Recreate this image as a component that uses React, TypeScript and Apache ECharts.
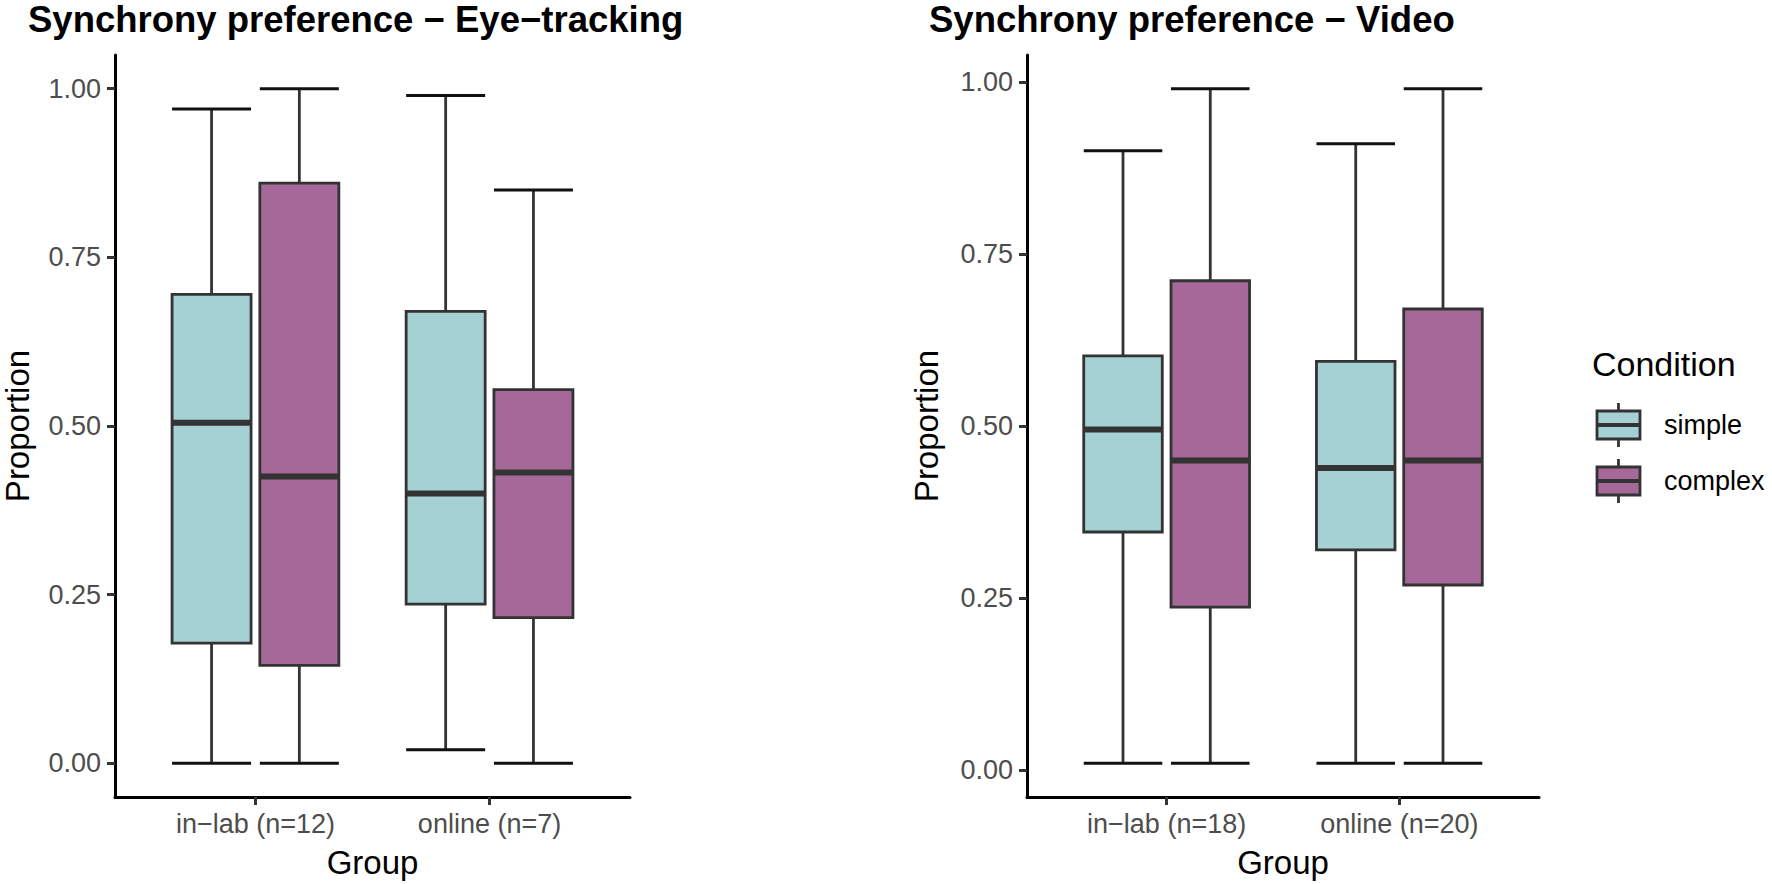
import { useEffect, useRef } from 'react';
import * as echarts from 'echarts';

// group labels (R draws the hyphen as a minus sign)
const groupsEye = ['in\u2212lab (n=12)', 'online (n=7)'];
const groupsVideo = ['in\u2212lab (n=18)', 'online (n=20)'];
const conditions = ['simple', 'complex'];
const yTicks = [0, 0.25, 0.5, 0.75, 1];

// [min, q1, median, q3, max] per group, one array per condition
const eyeSimple = [
    [0, 0.178, 0.505, 0.695, 0.97],
    [0.02, 0.236, 0.4, 0.67, 0.99],
];
const eyeComplex = [
    [0, 0.145, 0.425, 0.86, 1.0],
    [0, 0.216, 0.431, 0.554, 0.85],
];
const videoSimple = [
    [0.01, 0.346, 0.495, 0.602, 0.9],
    [0.01, 0.32, 0.439, 0.594, 0.91],
];
const videoComplex = [
    [0.01, 0.237, 0.45, 0.711, 0.99],
    [0.01, 0.269, 0.45, 0.67, 0.99],
];

const FILL = ['#A5D0D4', '#A66899'];
const STROKE = '#333333';
const FONT = 'Liberation Sans, Arial, Helvetica, sans-serif';
const DODGE = 0.1875;
const HALF = 0.16875;
const LW = 2.8;

const toRows = (simple: number[][], complex: number[][]) => {
    const rows: number[][] = [];
    [simple, complex].forEach((cond, c) => {
        cond.forEach((s, g) => rows.push([g + 1, c, ...s]));
    });
    return rows;
};

// ggplot-like 5% expansion of the data range
const expand = (simple: number[][], complex: number[][]) => {
    const all = [...simple, ...complex].flat();
    const lo = Math.min(...all);
    const hi = Math.max(...all);
    const pad = (hi - lo) * 0.05;
    return [lo - pad, hi + pad];
};

const renderBox = (_params: any, api: any) => {
    const g = api.value(0);
    const c = api.value(1);
    const xc = g + (c === 0 ? -DODGE : DODGE);
    const lo = api.value(2), q1 = api.value(3), med = api.value(4), q3 = api.value(5), hi = api.value(6);
    const xl = api.coord([xc - HALF, lo])[0];
    const xr = api.coord([xc + HALF, lo])[0];
    const xm = api.coord([xc, lo])[0];
    const y = (v: number) => api.coord([xc, v])[1];
    return {
        type: 'group',
        children: [
            { type: 'line', shape: { x1: xm, y1: y(hi), x2: xm, y2: y(q3) }, style: { stroke: STROKE, lineWidth: LW } },
            { type: 'line', shape: { x1: xm, y1: y(q1), x2: xm, y2: y(lo) }, style: { stroke: STROKE, lineWidth: LW } },
            { type: 'line', shape: { x1: xl, y1: y(hi), x2: xr, y2: y(hi) }, style: { stroke: '#111', lineWidth: 3 } },
            { type: 'line', shape: { x1: xl, y1: y(lo), x2: xr, y2: y(lo) }, style: { stroke: '#111', lineWidth: 3 } },
            {
                type: 'rect',
                shape: { x: xl, y: y(q3), width: xr - xl, height: y(q1) - y(q3) },
                style: { fill: FILL[c], stroke: STROKE, lineWidth: LW },
            },
            { type: 'line', shape: { x1: xl, y1: y(med), x2: xr, y2: y(med) }, style: { stroke: STROKE, lineWidth: 6 } },
        ],
    };
};

const xAxisFor = (gridIndex: number, labels: string[]) => ({
    type: 'value',
    gridIndex,
    min: 0.4,
    max: 2.6,
    splitLine: { show: false },
    axisLine: { onZero: false, lineStyle: { color: '#000', width: 3 } },
    axisTick: { customValues: [1, 2], length: 8, lineStyle: { color: STROKE, width: 3 } },
    axisLabel: {
        customValues: [1, 2],
        formatter: (v: number) => labels[Math.round(v) - 1],
        color: '#4D4D4D',
        fontSize: 27,
        fontFamily: FONT,
        margin: 13,
    },
});

const yAxisFor = (gridIndex: number, range: number[]) => ({
    type: 'value',
    gridIndex,
    min: range[0],
    max: range[1],
    splitLine: { show: false },
    axisLine: { onZero: false, lineStyle: { color: '#000', width: 3 } },
    axisTick: { customValues: yTicks, length: 8, lineStyle: { color: STROKE, width: 3 } },
    axisLabel: {
        customValues: yTicks,
        formatter: (v: number) => v.toFixed(2),
        color: '#4D4D4D',
        fontSize: 27,
        fontFamily: FONT,
        margin: 14,
    },
});

const text = (x: number, y: number, str: string, size: number, extra: any = {}) => ({
    type: 'text',
    x,
    y,
    style: { text: str, fontSize: size, fontFamily: FONT, fill: '#000', textVerticalAlign: 'middle', ...extra },
});

const legendKey = (y: number, c: number) => ({
    type: 'group',
    children: [
        { type: 'line', shape: { x1: 1618.5, y1: y - 22, x2: 1618.5, y2: y + 22 }, style: { stroke: STROKE, lineWidth: LW } },
        { type: 'rect', shape: { x: 1597, y: y - 14, width: 43, height: 28 }, style: { fill: FILL[c], stroke: STROKE, lineWidth: LW } },
        { type: 'line', shape: { x1: 1597, y1: y, x2: 1640, y2: y }, style: { stroke: STROKE, lineWidth: 4 } },
    ],
});

const App = () => {
    const chartRef = useRef<HTMLDivElement | null>(null);

    useEffect(() => {
        if (!chartRef.current) return;
        const myChart = echarts.init(chartRef.current, null, { renderer: 'svg' });

        const option = {
            animation: false,
            backgroundColor: '#fff',
            grid: [
                { left: 115, top: 55, width: 515, height: 742 },
                { left: 1027, top: 55, width: 512, height: 742 },
            ],
            xAxis: [xAxisFor(0, groupsEye), xAxisFor(1, groupsVideo)],
            yAxis: [yAxisFor(0, expand(eyeSimple, eyeComplex)), yAxisFor(1, expand(videoSimple, videoComplex))],
            series: [
                {
                    type: 'custom',
                    name: 'Eye-tracking',
                    xAxisIndex: 0,
                    yAxisIndex: 0,
                    renderItem: renderBox,
                    data: toRows(eyeSimple, eyeComplex),
                },
                {
                    type: 'custom',
                    name: 'Video',
                    xAxisIndex: 1,
                    yAxisIndex: 1,
                    renderItem: renderBox,
                    data: toRows(videoSimple, videoComplex),
                },
            ],
            graphic: [
                text(28, 19, 'Synchrony preference \u2212 Eye\u2212tracking', 36.5, { fontWeight: 'bold' }),
                text(929, 19, 'Synchrony preference \u2212 Video', 36.5, { fontWeight: 'bold' }),
                text(372.5, 862, 'Group', 33, { textAlign: 'center' }),
                text(1283, 862, 'Group', 33, { textAlign: 'center' }),
                { ...text(17, 426, 'Proportion', 33, { textAlign: 'center' }), rotation: Math.PI / 2 },
                { ...text(926, 426, 'Proportion', 33, { textAlign: 'center' }), rotation: Math.PI / 2 },
                text(1592, 364, 'Condition', 34),
                legendKey(425, 0),
                legendKey(481, 1),
                text(1664, 425, conditions[0], 27),
                text(1664, 481, conditions[1], 27),
            ],
        };

        myChart.setOption(option);

        return () => {
            myChart.dispose();
        };
    }, []);

    return <div ref={chartRef} style={{ position: 'absolute', left: 0, top: 0, width: '1772px', height: '884px' }} />;
};

export default App;
